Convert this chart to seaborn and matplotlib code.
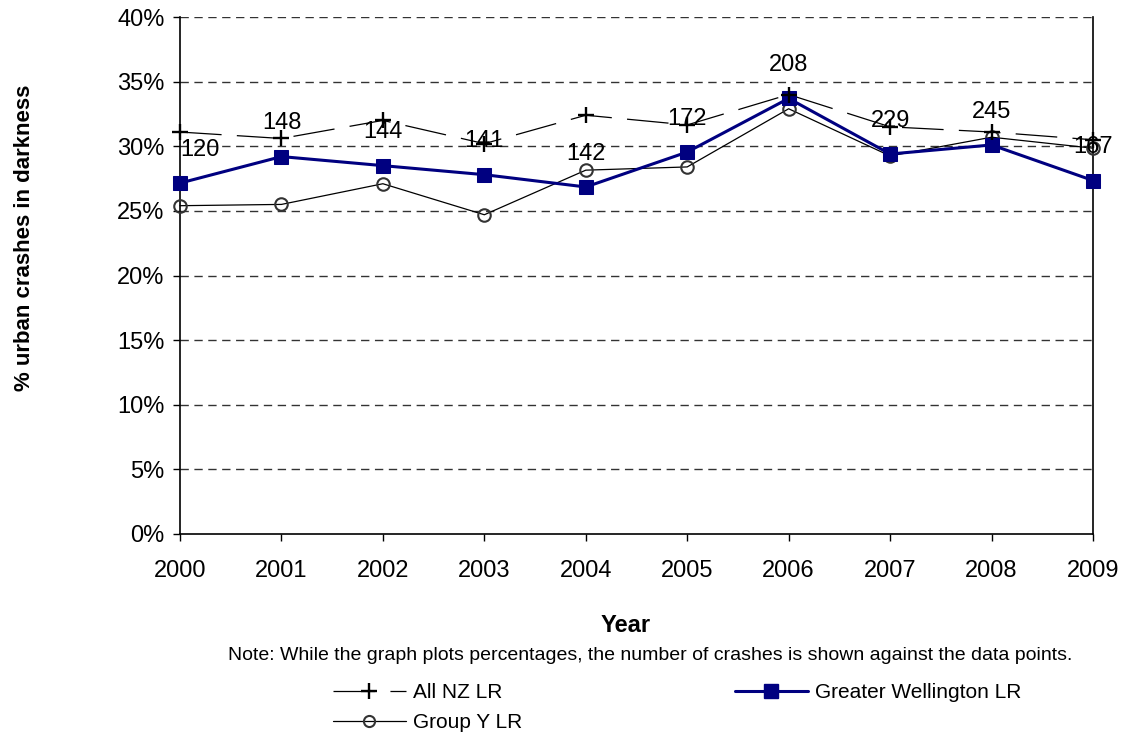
import matplotlib
matplotlib.use("Agg")
import matplotlib.pyplot as plt
from matplotlib.lines import Line2D
import seaborn as sns

# Urban crashes in darkness, by year (percent of all urban crashes)
years = [2000, 2001, 2002, 2003, 2004, 2005, 2006, 2007, 2008, 2009]
all_nz = [31.1, 30.6, 32.0, 30.2, 32.4, 31.65, 34.0, 31.5, 31.1, 30.5]
greater_wellington = [27.15, 29.2, 28.5, 27.8, 26.85, 29.55, 33.7, 29.4, 30.1, 27.35]
group_y = [25.4, 25.5, 27.1, 24.7, 28.15, 28.4, 32.9, 29.25, 30.7, 29.85]
# Number of Greater Wellington crashes behind each percentage
gw_counts = [120, 148, 144, 141, 142, 172, 208, 229, 245, 167]
y_ticks = [0, 5, 10, 15, 20, 25, 30, 35, 40]

sns.set_theme(style="white")
plt.rcParams["font.family"] = ["Liberation Sans", "DejaVu Sans"]
plt.rcParams["lines.scale_dashes"] = False
plt.rcParams["text.color"] = "black"
plt.rcParams["xtick.color"] = "black"
plt.rcParams["ytick.color"] = "black"
plt.rcParams["xtick.labelcolor"] = "black"
plt.rcParams["ytick.labelcolor"] = "black"

W, H = 1123, 740
fig = plt.figure(figsize=(W / 100, H / 100), dpi=100)
fig.patch.set_facecolor("white")
ax = fig.add_axes([180 / W, 1 - 534 / H, (1093 - 180) / W, (534 - 17) / H])
ax.set_facecolor("white")

NAVY = "#000080"
FS = 17

# horizontal dashed gridlines
for t in y_ticks[1:]:
    ax.axhline(t, color="#333333", lw=1.0, dashes=(6, 4), zorder=0)

sns.lineplot(x=years, y=all_nz, ax=ax, color="black", lw=0.9, zorder=3)
ax.lines[-1].set_dashes((30, 11))
ax.plot(years, all_nz, ls="none", marker="+", markersize=11,
        mew=1.7, color="black", zorder=5, clip_on=False)

sns.lineplot(x=years, y=group_y, ax=ax, color="black", lw=0.9,
             marker="o", markersize=9, markerfacecolor="none",
             markeredgecolor="#333333", markeredgewidth=1.5, zorder=3,
             clip_on=False)

sns.lineplot(x=years, y=greater_wellington, ax=ax, color=NAVY, lw=2.2,
             marker="s", markersize=9.5, markerfacecolor=NAVY,
             markeredgecolor=NAVY, zorder=4, clip_on=False)

# crash counts above the Greater Wellington points
for i, (yr, v, n) in enumerate(zip(years, greater_wellington, gw_counts)):
    dx = 14 if i == 0 else 0
    ax.annotate(str(n), (yr, v), xytext=(dx, 24), textcoords="offset points",
                ha="center", va="center", fontsize=FS, color="black", zorder=6,
                annotation_clip=False)

ax.set_xlim(2000, 2009)
ax.set_ylim(0, 40)
ax.set_xticks(years)
ax.set_xticklabels([str(y) for y in years])
ax.set_yticks(y_ticks)
ax.set_yticklabels([f"{t}%" for t in y_ticks])
ax.tick_params(axis="both", which="major", labelsize=FS, length=5, width=1,
               color="black", labelcolor="black", direction="out", pad=6,
               bottom=True, left=True)
ax.tick_params(axis="x", pad=14)

for side in ["left", "bottom", "right"]:
    ax.spines[side].set_visible(True)
    ax.spines[side].set_color("black")
    ax.spines[side].set_linewidth(1.2)
ax.spines["top"].set_visible(False)
ax.set_xlabel("")
ax.set_ylabel("")

fig.text(25 / W, 1 - 238 / H, "% urban crashes in darkness", rotation=90,
         ha="center", va="center", fontsize=16, fontweight="bold")
fig.text(626 / W, 1 - 626 / H, "Year", ha="center", va="center",
         fontsize=FS, fontweight="bold")
fig.text(650 / W, 1 - 656 / H,
         "Note: While the graph plots percentages, the number of crashes is shown against the data points.",
         ha="center", va="center", fontsize=14)

h_all = Line2D([], [], color="black", lw=0.9, marker="+", markersize=11,
               mew=1.7, dashes=(30, 11))
h_gw = Line2D([], [], color=NAVY, lw=2.2, marker="s", markersize=9.5,
              markerfacecolor=NAVY, markeredgecolor=NAVY)
h_gy = Line2D([], [], color="black", lw=0.9, marker="o", markersize=8,
              markerfacecolor="none", markeredgecolor="#333333", markeredgewidth=1.5)
leg = fig.legend([h_all, h_gy, h_gw], ["All NZ LR", "Group Y LR", "Greater Wellington LR"],
                 ncol=2, loc="upper left", bbox_to_anchor=(333 / W, 1 - 683 / H),
                 frameon=False, fontsize=15, handlelength=3.5, handletextpad=0.35,
                 columnspacing=10.2, labelspacing=0.55, borderpad=0, borderaxespad=0)

fig.savefig("out.png", dpi=100, facecolor="white")
